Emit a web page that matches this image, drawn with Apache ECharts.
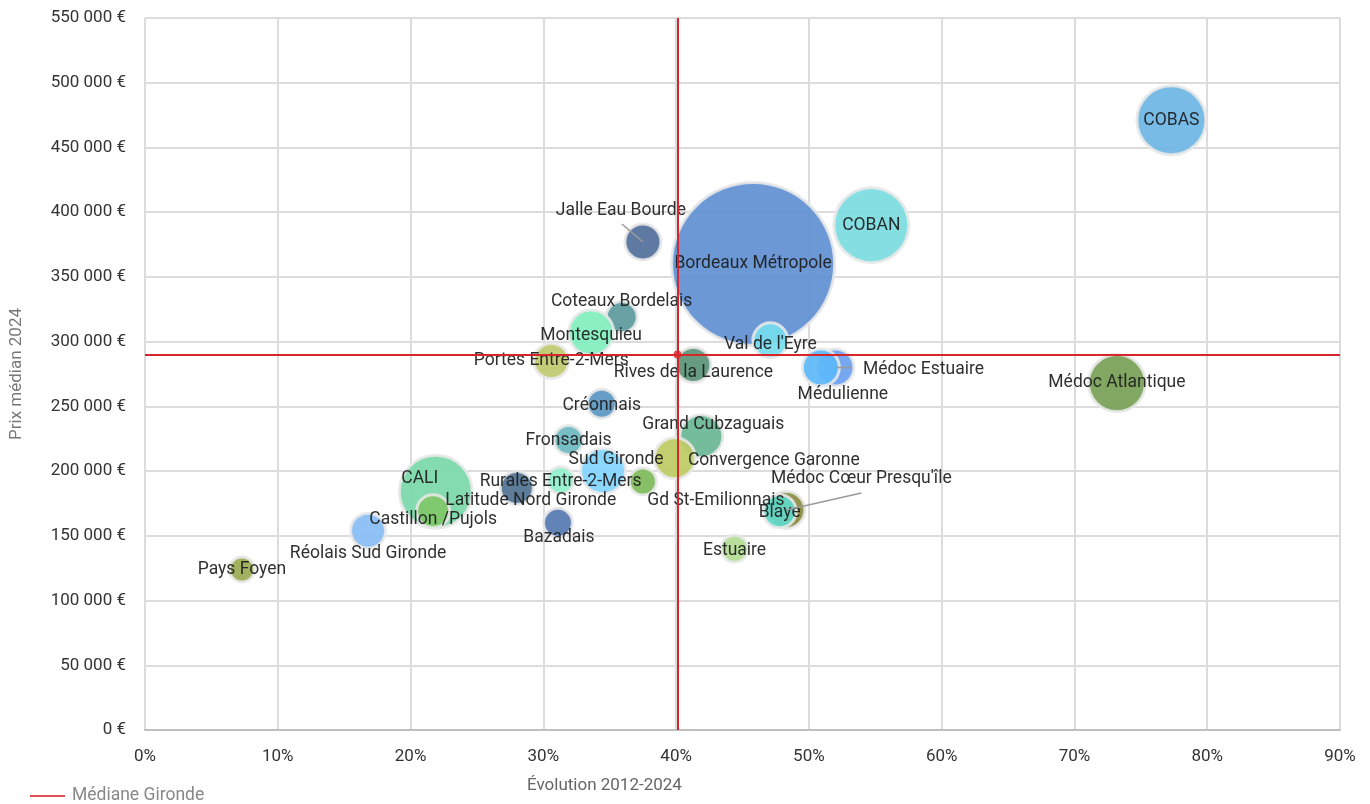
<!DOCTYPE html>
<html lang="fr">
<head>
<meta charset="utf-8">
<title>Prix médian 2024 et évolution 2012-2024 par territoire</title>
<script src="https://cdn.jsdelivr.net/npm/echarts@6/dist/echarts.min.js"></script>
<style>
  html, body { margin: 0; padding: 0; background: #ffffff; }
  #chart { width: 1370px; height: 804px; }
</style>
</head>
<body>
<div id="chart"></div>
<script>
// Territoires, évolution du prix 2012-2024 (%), prix médian 2024 (€) et poids (taille de bulle)
const territoires = [
  "Bordeaux Métropole", "CALI", "COBAN", "COBAS", "Médoc Atlantique",
  "Coteaux Bordelais", "Montesquieu", "Portes Entre-2-Mers", "Jalle Eau Bourde",
  "Val de l'Eyre", "Rives de la Laurence", "Médoc Estuaire", "Médulienne",
  "Créonnais", "Fronsadais", "Grand Cubzaguais", "Convergence Garonne",
  "Sud Gironde", "Rurales Entre-2-Mers", "Gd St-Emilionnais", "Latitude Nord Gironde",
  "Castillon /Pujols", "Bazadais", "Réolais Sud Gironde", "Pays Foyen",
  "Médoc Cœur Presqu'île", "Blaye", "Estuaire"
];
const evolution = [
  45.8, 21.9, 54.7, 77.3, 73.2,
  35.9, 33.6, 30.6, 37.5,
  47.1, 41.3, 52.0, 50.9,
  34.4, 31.9, 41.9, 39.9,
  34.5, 31.3, 37.5, 28.0,
  21.7, 31.1, 16.8, 7.3,
  48.3, 47.8, 44.4
];
const prixMedian = [
  360000, 184000, 390000, 471000, 268000,
  319000, 307000, 285000, 377000,
  301000, 282000, 280000, 280000,
  252000, 224000, 227000, 210000,
  200000, 193000, 192000, 187000,
  169000, 160000, 154000, 124000,
  170000, 169000, 140000
];
const poids = [
  832000, 159000, 168500, 141600, 94800,
  25500, 57300, 33300, 35400,
  33300, 33300, 37600, 37600,
  22000, 22000, 52000, 46900,
  57300, 18700, 18700, 29300,
  29300, 22000, 33300, 15700,
  37600, 29300, 18700
];
// Médiane départementale
const medianeEvolution = 40.1;
const medianePrix = 290000;

// Couleurs des bulles
const couleurs = [
  "#5f8fd3", "#78d8a8", "#7bdbe0", "#6cb5e4", "#769f55",
  "#5b9a9c", "#80efbc", "#bfca6c", "#506f9a",
  "#76dcee", "#5a9478", "#6c9ff0", "#5cb9f8",
  "#5a96c2", "#6bb8c0", "#68b692", "#bccb62",
  "#82d4fd", "#90f0cc", "#7cba58", "#4f7190",
  "#80c868", "#5578b0", "#88bdf5", "#9aaa52",
  "#8a8c40", "#60d8ca", "#b2dc92"
];
// Décalage des étiquettes (px) par rapport au centre de la bulle
const decalages = {
  "Jalle Eau Bourde": [-22, -31],
  "Coteaux Bordelais": [0, -15],
  "Montesquieu": [0, 3],
  "Val de l'Eyre": [0, 4],
  "Rives de la Laurence": [0, 8],
  "Médulienne": [22, 27],
  "Médoc Estuaire": [88, 2],
  "Créonnais": [0, 2],
  "Fronsadais": [0, 1],
  "Grand Cubzaguais": [12, -12],
  "Convergence Garonne": [99, 2],
  "Sud Gironde": [13, -11],
  "Gd St-Emilionnais": [73, 19],
  "Rurales Entre-2-Mers": [0, 1],
  "CALI": [-16, -13],
  "Latitude Nord Gironde": [14, 13],
  "Castillon /Pujols": [0, 8],
  "Bazadais": [1, 15],
  "Réolais Sud Gironde": [0, 23],
  "Médoc Cœur Presqu'île": [75, -31],
  "Blaye": [0, 1],
  "Estuaire": [0, 2]
};
// Traits de rappel : extrémités (px) relatives au centre de la bulle
const traits = {
  "Jalle Eau Bourde": [[0, 0], [-21, -18]],
  "Médoc Estuaire": [[1, 0], [16, 0]],
  "Médoc Cœur Presqu'île": [[0, 0], [75, -17]]
};

const rayonRef = 130; // poids par px² de bulle

const bulles = territoires.map((nom, i) => ({
  name: nom,
  value: [evolution[i], prixMedian[i], poids[i]],
  itemStyle: { color: couleurs[i] }
}));

const rappels = Object.keys(traits).map(nom => {
  const i = territoires.indexOf(nom);
  return [evolution[i], prixMedian[i], i];
});

const fmtEuro = v => String(v).replace(/\B(?=(\d{3})+(?!\d))/g, " ") + " €";
const police = "Roboto, 'Noto Sans', sans-serif";

const chart = echarts.init(document.getElementById("chart"), null, { renderer: "canvas" });

chart.setOption({
  animation: false,
  backgroundColor: "#ffffff",
  textStyle: { fontFamily: police },
  grid: { left: 143, right: 30, top: 18, bottom: 74, containLabel: false },
  legend: {
    left: 30, top: 787, padding: 0,
    data: [{ name: "Médiane Gironde", icon: "rect" }],
    itemWidth: 35, itemHeight: 2,
    textStyle: { color: "#888", fontSize: 17.5, padding: [0, 0, 0, 2], fontFamily: police }
  },
  graphic: [{
    type: "text", left: 527, top: 777,
    style: { text: "Évolution 2012-2024", fill: "#666", fontSize: 17, fontFamily: police }
  }],
  xAxis: {
    type: "value", min: 0, max: 90, interval: 10,
    axisLine: { show: true, lineStyle: { color: "#bfbfbf", width: 2 } },
    axisTick: { show: false },
    axisLabel: { formatter: "{value}%", color: "#333", fontSize: 17, margin: 18, fontFamily: police },
    splitLine: { show: true, lineStyle: { color: "#dcdcdc", width: 2 } }
  },
  yAxis: {
    type: "value", min: 0, max: 550000, interval: 50000,
    name: "Prix médian 2024", nameLocation: "middle", nameGap: 120,
    nameTextStyle: { color: "#777", fontSize: 17, fontFamily: police },
    axisLine: { show: false },
    axisTick: { show: false },
    axisLabel: { formatter: fmtEuro, color: "#333", fontSize: 17, margin: 19, fontFamily: police },
    splitLine: { show: true, lineStyle: { color: "#dcdcdc", width: 2 } }
  },
  series: [
    {
      name: "Territoires",
      type: "scatter",
      data: bulles,
      symbolSize: v => 2 * Math.sqrt(v[2] / rayonRef) + 3,
      itemStyle: { opacity: 0.92, borderColor: "rgba(232,232,232,0.95)", borderWidth: 3 },
      label: {
        show: true, position: "inside", formatter: "{b}",
        color: "#1c1c1c", fontSize: 17.5
      },
      labelLayout: p => {
        const d = decalages[territoires[p.dataIndex]] || [0, 0];
        return { dx: d[0], dy: d[1] };
      },
      emphasis: { disabled: true },
      z: 3
    },
    {
      name: "Rappels",
      type: "custom",
      data: rappels,
      silent: true,
      renderItem: (params, api) => {
        const c = api.coord([api.value(0), api.value(1)]);
        const t = traits[territoires[api.value(2)]];
        return {
          type: "line",
          shape: { x1: c[0] + t[0][0], y1: c[1] + t[0][1], x2: c[0] + t[1][0], y2: c[1] + t[1][1] },
          style: { stroke: "#9a9a9a", lineWidth: 1.5 }
        };
      },
      z: 4
    },
    {
      name: "Médiane Gironde",
      type: "scatter",
      data: [[medianeEvolution, medianePrix]],
      symbol: "circle", symbolSize: 8,
      itemStyle: { color: "#d7262b" },
      markLine: {
        silent: true, symbol: "none", label: { show: false },
        lineStyle: { color: "#d7262b", width: 2, type: "solid" },
        data: [{ xAxis: medianeEvolution }, { yAxis: medianePrix }]
      },
      z: 5
    }
  ]
});
</script>
</body>
</html>
